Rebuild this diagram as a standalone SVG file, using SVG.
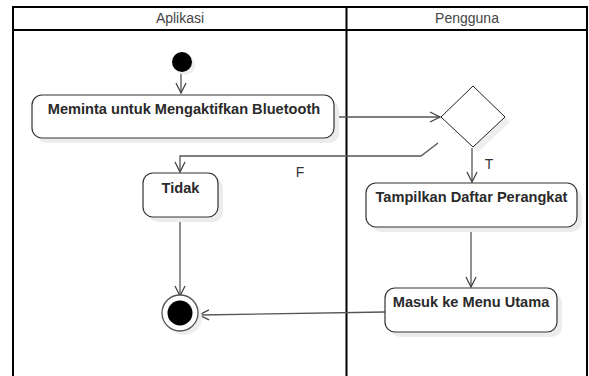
<svg xmlns="http://www.w3.org/2000/svg" width="589" height="376" viewBox="0 0 589 376">
  <defs>
    <marker id="arr" viewBox="0 0 12 12" refX="11" refY="6" markerWidth="12" markerHeight="12" markerUnits="userSpaceOnUse" orient="auto">
      <path d="M1,1 L11,6 L1,11" fill="none" stroke="#444" stroke-width="1.3"/>
    </marker>
  </defs>
  <style>
    .lane { fill: none; stroke: #000; stroke-width: 2; }
    .hdr { font-family: "Liberation Sans", Arial, sans-serif; font-size: 14px; fill: #444; text-anchor: middle; }
    .box { fill: #fff; stroke: #333; stroke-width: 1.2; }
    .shadow { fill: #ececec; stroke: none; }
    .lbl { font-family: "Liberation Sans", Arial, sans-serif; font-size: 14.6px; font-weight: bold; fill: #2a2a2a; text-anchor: middle; }
    .edge { fill: none; stroke: #555; stroke-width: 1.3; }
    .guard { font-family: "Liberation Sans", Arial, sans-serif; font-size: 14px; fill: #333; text-anchor: middle; }
  </style>
  <rect width="589" height="376" fill="#fff"/>

  <g id="swimlanes">
    <path class="lane" d="M13,377 V7 H587 V377"/>
    <path class="lane" d="M13,30 H587"/>
    <path class="lane" d="M346.5,7 V377"/>
    <text class="hdr" x="180" y="23">Aplikasi</text>
    <text class="hdr" x="467" y="23">Pengguna</text>
  </g>

  <g id="connectors">
    <path class="edge" d="M181,72 V93" marker-end="url(#arr)"/>
    <path class="edge" d="M334,117 H440" marker-end="url(#arr)"/>
    <path class="edge" d="M438,143 L421,156 H180 V172" marker-end="url(#arr)"/>
    <path class="edge" d="M472,148 V182" marker-end="url(#arr)"/>
    <path class="edge" d="M471,228 V287" marker-end="url(#arr)"/>
    <path class="edge" d="M385,312 L199,315" marker-end="url(#arr)"/>
    <path class="edge" d="M180,218 V296" marker-end="url(#arr)"/>
    <text class="guard" x="300" y="177">F</text>
    <text class="guard" x="489" y="169">T</text>
  </g>

  <g id="start">
    <circle cx="185" cy="65" r="10" fill="#eee"/>
    <circle cx="182" cy="62" r="10" fill="#000"/>
  </g>

  <g id="n-meminta">
    <rect class="shadow" x="37" y="100" width="302" height="43" rx="10"/>
    <rect class="box" x="32" y="95" width="302" height="43" rx="10"/>
    <text class="lbl" x="184" y="114">Meminta untuk Mengaktifkan Bluetooth</text>
  </g>

  <g id="n-decision">
    <polygon points="478,91 510,122 478,152 446,122" fill="#eee"/>
    <polygon points="473,86 505,117 473,147 441,117" fill="#fff" stroke="#222" stroke-width="1"/>
  </g>

  <g id="n-tidak">
    <rect class="shadow" x="148" y="178" width="75" height="44" rx="10"/>
    <rect class="box" x="143" y="173" width="75" height="44" rx="10"/>
    <text class="lbl" x="180.5" y="193">Tidak</text>
  </g>

  <g id="n-tampilkan">
    <rect class="shadow" x="371" y="188" width="211" height="44" rx="10"/>
    <rect class="box" x="366" y="183" width="211" height="44" rx="10"/>
    <text class="lbl" x="471.5" y="202">Tampilkan Daftar Perangkat</text>
  </g>

  <g id="n-masuk">
    <rect class="shadow" x="390" y="293" width="172" height="44" rx="10"/>
    <rect class="box" x="385" y="288" width="172" height="44" rx="10"/>
    <text class="lbl" x="471" y="307">Masuk ke Menu Utama</text>
  </g>

  <g id="end">
    <circle cx="184" cy="317" r="18" fill="#eee"/>
    <circle cx="180" cy="313" r="18" fill="#fff" stroke="#555" stroke-width="1.3"/>
    <circle cx="180" cy="313" r="12.5" fill="#000"/>
  </g>
</svg>
